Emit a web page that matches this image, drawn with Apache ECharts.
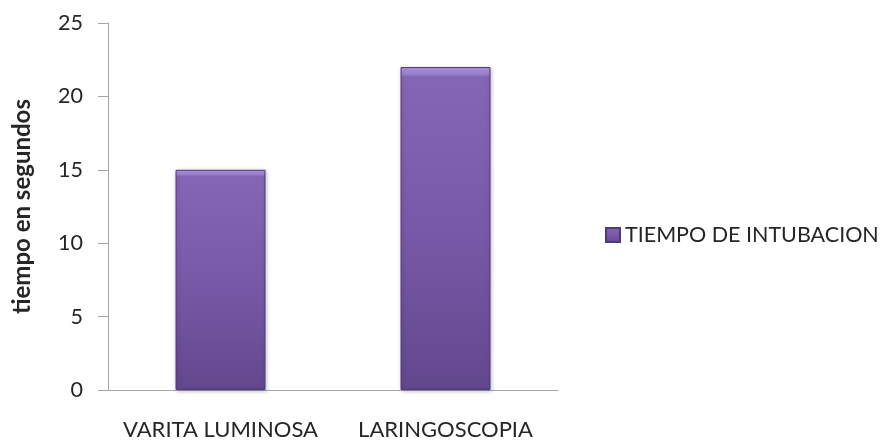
<!DOCTYPE html>
<html>
<head>
<meta charset="utf-8">
<script src="https://cdn.jsdelivr.net/npm/echarts@6/dist/echarts.min.js"></script>
<style>
  html, body { margin: 0; padding: 0; background: #fff; }
  #chart { width: 885px; height: 445px; }
</style>
</head>
<body>
<div id="chart"></div>
<script>
// Intubation time per technique
const categories = ['VARITA LUMINOSA', 'LARINGOSCOPIA'];
const seriesName = 'TIEMPO DE INTUBACION';
const values = [15, 22];
const axisTitle = 'tiempo en segundos';

const FONT = 'Lato';

// Bevelled purple fill: light rim on top, body darkening downwards
const barFill = new echarts.graphic.LinearGradient(0, 0, 0, 1, [
  { offset: 0, color: '#b49be0' },
  { offset: 0.022, color: '#9a7fd0' },
  { offset: 0.03, color: '#8566b6' },
  { offset: 0.5, color: '#7859a8' },
  { offset: 1, color: '#63478d' }
]);

const chart = echarts.init(document.getElementById('chart'), null, { renderer: 'canvas' });
chart.setOption({
  animation: false,
  textStyle: { fontFamily: FONT },
  grid: { left: 108, right: 327, top: 23, bottom: 55, containLabel: false },
  legend: {
    data: [seriesName],
    left: 600,
    top: 219,
    icon: 'rect',
    itemWidth: 14,
    itemHeight: 14,
    textStyle: { fontFamily: FONT, fontSize: 21.5, color: '#262626' }
  },
  xAxis: {
    type: 'category',
    data: categories,
    axisLine: { show: true, lineStyle: { color: '#a6a6a6', width: 1 } },
    axisTick: { show: false },
    axisLabel: { interval: 0, hideOverlap: false, margin: 29, fontFamily: FONT, fontSize: 22, color: '#262626' },
    splitLine: { show: false }
  },
  yAxis: {
    type: 'value',
    min: 0,
    max: 25,
    interval: 5,
    name: axisTitle,
    nameLocation: 'middle',
    nameGap: 74,
    nameTextStyle: { fontFamily: FONT, fontSize: 24, fontWeight: 'bold', color: '#262626' },
    axisLine: { show: true, lineStyle: { color: '#a6a6a6', width: 1 } },
    axisTick: { show: true, length: 10, lineStyle: { color: '#a6a6a6' } },
    axisLabel: { margin: 25, fontFamily: FONT, fontSize: 21.5, color: '#262626' },
    splitLine: { show: false }
  },
  series: [{
    name: seriesName,
    type: 'bar',
    data: values,
    barWidth: '40%',
    itemStyle: {
      color: barFill,
      borderColor: '#50397a',
      borderWidth: 1,
      shadowColor: 'rgba(0,0,0,0.25)',
      shadowBlur: 4,
      shadowOffsetX: 1,
      shadowOffsetY: 1
    }
  }]
});
</script>
</body>
</html>
